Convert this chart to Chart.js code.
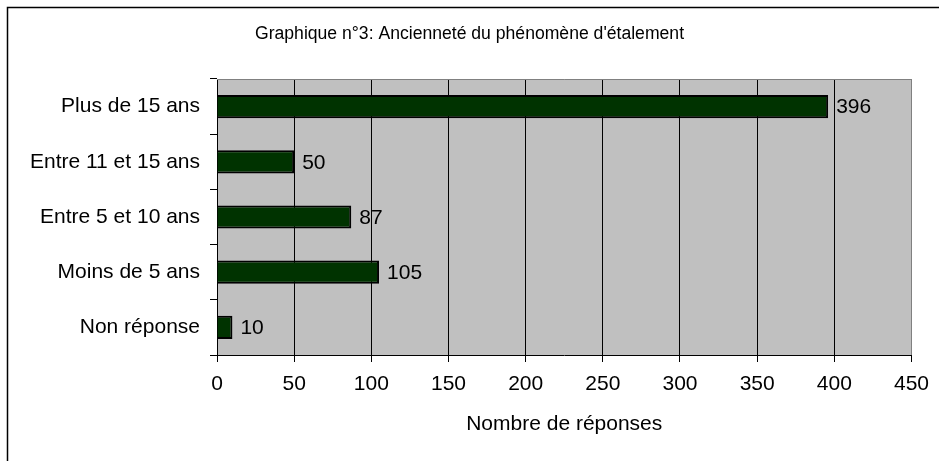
<!DOCTYPE html>
<html>
<head>
<meta charset="utf-8">
<title>Graphique n°3</title>
<script src="https://cdn.jsdelivr.net/npm/chart.js@4/dist/chart.umd.min.js"></script>
<style>
    body { margin: 0; background: #fff; }
    canvas { display: block; }
</style>
</head>
<body>
<canvas id="bar-chart" width="939" height="461"></canvas>
<script>
"use strict";

var categories = ["Plus de 15 ans", "Entre 11 et 15 ans", "Entre 5 et 10 ans", "Moins de 5 ans", "Non réponse"];
var reponses = [396, 50, 87, 105, 10];
var xMin = 0, xMax = 450, xStep = 50;
var chartTitle = "Graphique n°3: Ancienneté du phénomène d'étalement";
var axisTitle = "Nombre de réponses";

var fontFamily = '"Liberation Sans", Arial, sans-serif';

// grey plot area, frame round the picture and the title (centred on the whole canvas)
var plotArea = {
    id: 'plotArea',
    beforeDraw: function(chart) {
        var ctx = chart.ctx, a = chart.chartArea;
        ctx.save();
        ctx.fillStyle = '#C0C0C0';
        ctx.fillRect(a.left, a.top, a.right - a.left, a.bottom - a.top);
        ctx.strokeStyle = '#000';
        ctx.lineWidth = 1.5;
        ctx.beginPath();
        ctx.moveTo(7.5, chart.height);
        ctx.lineTo(7.5, 7.5);
        ctx.lineTo(chart.width, 7.5);
        ctx.stroke();

        ctx.font = '17.6px ' + fontFamily;
        ctx.fillStyle = '#000';
        ctx.textAlign = 'center';
        ctx.textBaseline = 'middle';
        ctx.fillText(chartTitle, chart.width / 2, 34);
        ctx.restore();
    },
    afterDraw: function(chart) {
        var ctx = chart.ctx, a = chart.chartArea;
        ctx.save();
        ctx.strokeStyle = '#808080';
        ctx.lineWidth = 1;
        ctx.beginPath();
        ctx.moveTo(a.left, Math.round(a.top) + 0.5);
        ctx.lineTo(Math.round(a.right) + 0.5, Math.round(a.top) + 0.5);
        ctx.lineTo(Math.round(a.right) + 0.5, a.bottom);
        ctx.stroke();
        ctx.restore();
    }
};

// value next to each bar
var valueLabels = {
    id: 'valueLabels',
    afterDatasetsDraw: function(chart) {
        var ctx = chart.ctx;
        var meta = chart.getDatasetMeta(0);
        ctx.save();
        ctx.font = '21px ' + fontFamily;
        ctx.fillStyle = '#000';
        ctx.textAlign = 'left';
        ctx.textBaseline = 'middle';
        meta.data.forEach(function(bar, i) {
            ctx.fillText(String(reponses[i]), bar.x + 8, bar.y + 1);
        });
        ctx.restore();
    }
};

new Chart(document.getElementById('bar-chart'), {
    type: 'bar',
    data: {
        labels: categories,
        datasets: [{
            data: reponses,
            backgroundColor: '#003300',
            borderColor: '#000',
            borderWidth: 2,
            barPercentage: 0.42,
            categoryPercentage: 1
        }]
    },
    options: {
        indexAxis: 'y',
        responsive: false,
        animation: false,
        layout: {
            padding: { left: 0, right: 26, top: 79, bottom: 0 }
        },
        plugins: {
            legend: { display: false },
            tooltip: { enabled: false },
            title: { display: false }
        },
        scales: {
            x: {
                min: xMin,
                max: xMax,
                ticks: {
                    stepSize: xStep,
                    color: '#000',
                    padding: 10,
                    font: { family: fontFamily, size: 21 }
                },
                grid: {
                    color: function(c) {
                        return c.tick && c.tick.value === xMax ? '#808080' : '#000';
                    },
                    tickColor: '#000',
                    tickLength: 7,
                    lineWidth: 1
                },
                border: { display: true, color: '#000', width: 1 },
                title: {
                    display: true,
                    text: axisTitle,
                    color: '#000',
                    font: { family: fontFamily, size: 21 },
                    padding: { top: 0, bottom: 24 }
                },
                afterFit: function(scale) {
                    scale.height = 106;
                }
            },
            y: {
                ticks: {
                    color: '#000',
                    padding: 10,
                    font: { family: fontFamily, size: 21 }
                },
                grid: {
                    drawOnChartArea: false,
                    color: '#000',
                    tickLength: 7
                },
                border: { display: true, color: '#000', width: 1 },
                afterFit: function(scale) {
                    scale.width = 217;
                }
            }
        }
    },
    plugins: [plotArea, valueLabels]
});
</script>
</body>
</html>
